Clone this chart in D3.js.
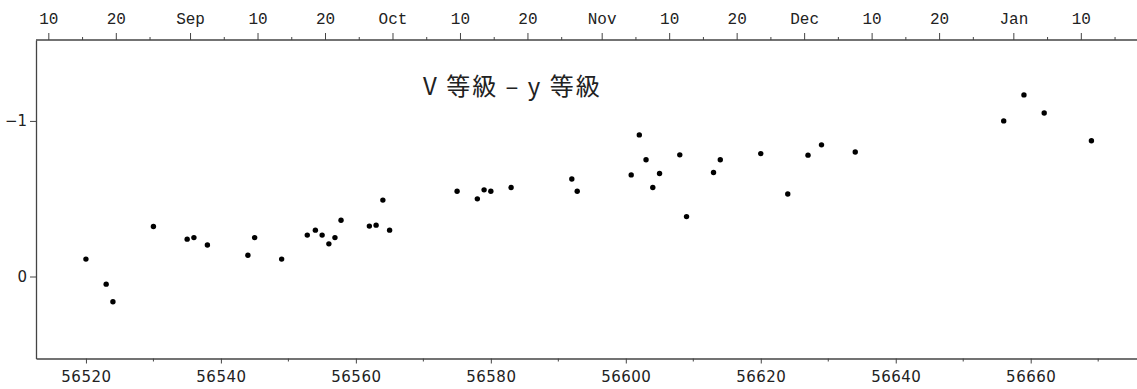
<!DOCTYPE html>
<html>
<head>
<meta charset="utf-8">
<script src="https://cdn.jsdelivr.net/npm/d3@7"></script>
<style>
  html, body { margin: 0; padding: 0; background: #fff; }
  svg { display: block; }
</style>
</head>
<body>
<svg id="chart"></svg>
<script>
// observation dates (MJD) and V-y colour
const mjd = [56520, 56523, 56524, 56530, 56535, 56536, 56538, 56544, 56545, 56549,
  56552.8, 56554, 56555, 56556, 56556.9, 56557.8, 56562, 56563, 56564, 56565,
  56575, 56578, 56579, 56580, 56583, 56592, 56592.8, 56600.8, 56602, 56603,
  56604, 56605, 56608, 56609, 56613, 56614, 56620, 56624, 56627, 56629,
  56634, 56656, 56659, 56662, 56669];
const vy = [-0.112, 0.049, 0.162, -0.321, -0.240, -0.250, -0.202, -0.137, -0.250, -0.112,
  -0.266, -0.298, -0.266, -0.210, -0.250, -0.362, -0.324, -0.330, -0.491, -0.298,
  -0.548, -0.499, -0.557, -0.548, -0.572, -0.627, -0.548, -0.653, -0.910, -0.750,
  -0.572, -0.662, -0.782, -0.385, -0.668, -0.750, -0.790, -0.530, -0.780, -0.846,
  -0.800, -1.000, -1.167, -1.051, -0.872];

const xMajor = [56520, 56540, 56560, 56580, 56600, 56620, 56640, 56660];
const xMinor = [56530, 56550, 56570, 56590, 56610, 56630, 56650, 56670];
const yTicks = [-1, 0];
const months = ["2013-08-01", "2013-09-01", "2013-10-01", "2013-11-01", "2013-12-01", "2014-01-01"];
const title = "V 等級 – y 等級";

const W = 1137, H = 389;
const m = { top: 40, right: 0, bottom: 30.5, left: 36 };

const svg = d3.select('#chart').attr('width', W).attr('height', H);

const x = d3.scaleLinear().domain([56512.6, 56675.9]).range([m.left, 1138]);
const y = d3.scaleLinear().domain([-1.52, 0.527]).range([m.top, H - m.bottom]);

const axisCol = '#444';

// date -> MJD
const MJD0 = Date.UTC(1858, 10, 17);
const toMjd = s => (new Date(s + 'T00:00:00Z') - MJD0) / 86400000;

// top date ticks
const topMajor = [], topMinor = [];
months.forEach(s => {
  const m0 = toMjd(s);
  const name = d3.utcFormat('%b')(new Date(s + 'T00:00:00Z'));
  topMajor.push({ v: m0 - 0.5, t: name }, { v: m0 + 9.5, t: '10' }, { v: m0 + 19.5, t: '20' });
  topMinor.push(m0 + 4.5, m0 + 14.5, m0 + 24.5);
});
const [lo, hi] = x.domain();
const inDom = v => v >= lo && v <= hi;

// bottom axis
const gb = svg.append('g').attr('transform', `translate(0,${H - m.bottom})`);
gb.call(d3.axisBottom(x).tickValues(xMajor).tickSize(5).tickSizeOuter(0).tickFormat(d3.format('d')));
gb.append('g').selectAll('line').data(xMinor).join('line')
  .attr('x1', d => x(d)).attr('x2', d => x(d)).attr('y1', 0).attr('y2', 3)
  .attr('stroke', axisCol);
gb.selectAll('.tick text').attr('dy', '1.05em')
  .style('font-family', '"DejaVu Sans", sans-serif').style('font-size', '15px').style('fill', '#222')
  .style('letter-spacing', '0.5px');

// top axis
const gt = svg.append('g').attr('transform', `translate(0,${m.top})`);
gt.append('line').attr('x1', m.left).attr('x2', W).attr('y1', 0).attr('y2', 0)
  .attr('stroke', axisCol).attr('stroke-width', 1.3);
gt.selectAll('line.maj').data(topMajor.filter(d => inDom(d.v))).join('line').attr('class', 'maj')
  .attr('x1', d => x(d.v)).attr('x2', d => x(d.v)).attr('y1', 0).attr('y2', -7)
  .attr('stroke', axisCol);
gt.selectAll('line.min').data(topMinor.filter(inDom)).join('line').attr('class', 'min')
  .attr('x1', d => x(d)).attr('x2', d => x(d)).attr('y1', 0).attr('y2', -3)
  .attr('stroke', axisCol);
gt.selectAll('text').data(topMajor.filter(d => inDom(d.v))).join('text')
  .attr('x', d => x(d.v)).attr('y', -16)
  .attr('text-anchor', 'middle')
  .style('font-family', '"Liberation Mono", monospace').style('font-size', '16px').style('fill', '#222')
  .text(d => d.t);

// left axis
const gl = svg.append('g').attr('transform', `translate(${m.left},0)`);
gl.call(d3.axisLeft(y).tickValues(yTicks).tickSize(6).tickSizeOuter(0).tickFormat(d3.format('d')));
gl.selectAll('.tick text').attr('x', -9)
  .style('font-family', '"DejaVu Sans", sans-serif').style('font-size', '15px').style('fill', '#222');

svg.selectAll('.domain').attr('stroke', axisCol).attr('stroke-width', 1.3);
svg.selectAll('.tick line').attr('stroke', axisCol);

// points
svg.append('g').selectAll('circle').data(mjd.map((d, i) => [d, vy[i]])).join('circle')
  .attr('cx', d => x(d[0])).attr('cy', d => y(d[1])).attr('r', 2.7).attr('fill', '#000');

// label
svg.append('text').attr('x', 423).attr('y', 95)
  .style('font-family', '"Noto Sans CJK JP", sans-serif').style('font-size', '24px')
  .style('letter-spacing', '2px').style('fill', '#222')
  .text(title);
</script>
</body>
</html>
